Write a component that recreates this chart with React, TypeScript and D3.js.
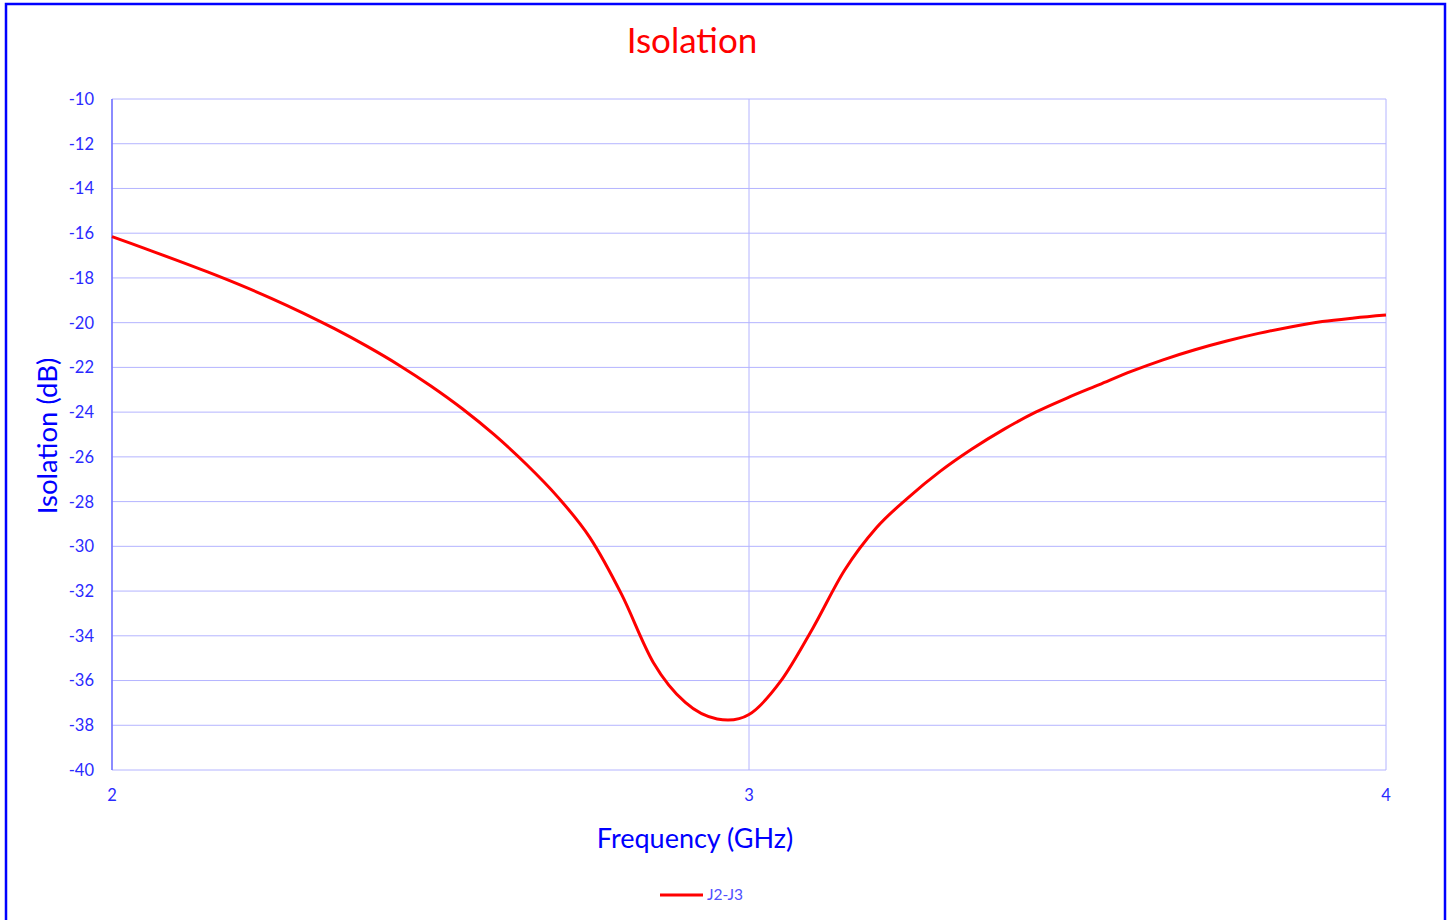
import React from "react";
import * as d3 from "d3";

// Frequency (GHz)
const freqs: number[] = [
  2.0, 2.05, 2.1, 2.15, 2.2, 2.25, 2.3, 2.35, 2.4, 2.45,
  2.5, 2.55, 2.6, 2.65, 2.7, 2.75, 2.8, 2.85, 2.9, 2.95,
  3.0, 3.05, 3.1, 3.15, 3.2, 3.25, 3.3, 3.35, 3.4, 3.45,
  3.5, 3.55, 3.6, 3.65, 3.7, 3.75, 3.8, 3.85, 3.9, 3.95, 4.0,
];
// J2-J3 isolation (dB)
const isolation: number[] = [
  -16.15, -16.67, -17.19, -17.73, -18.3, -18.91, -19.57, -20.28, -21.05, -21.89,
  -22.82, -23.85, -25.01, -26.32, -27.8, -29.6, -32.15, -35.2, -36.98, -37.72,
  -37.52, -36.02, -33.67, -31.07, -29.17, -27.82, -26.65, -25.65, -24.77, -24.0,
  -23.36, -22.77, -22.18, -21.66, -21.21, -20.82, -20.48, -20.19, -19.95, -19.79, -19.66,
];
const xTicks: number[] = [2, 3, 4];
const yTicks: number[] = [-40, -38, -36, -34, -32, -30, -28, -26, -24, -22, -20, -18, -16, -14, -12, -10];
const seriesName = "J2-J3";
const chartTitle = "Isolation";
const xTitle = "Frequency (GHz)";
const yTitle = "Isolation (dB)";

const W = 1452;
const H = 920;
const FONT = "Lato, 'Open Sans', sans-serif";

export default function App() {
  const x = d3.scaleLinear().domain([2, 4]).range([112, 1386]);
  const y = d3.scaleLinear().domain([-40, -10]).range([770, 99]);
  const data = freqs.map((f, i) => ({ f, v: isolation[i] }));
  const line = d3
    .line<{ f: number; v: number }>()
    .x((d) => x(d.f))
    .y((d) => y(d.v))
    .curve(d3.curveCardinal.tension(0));

  return (
    <svg
      width={W}
      height={H}
      style={{ position: "absolute", left: 0, top: 0, background: "#fff" }}
      fontFamily={FONT}
    >
      <rect x={0} y={0} width={W} height={H} fill="#fff" />
      <rect x={6} y={4} width={1439} height={930} fill="none" stroke="#0000ff" strokeWidth={2.5} />

      {/* horizontal grid */}
      {yTicks.map((t) => (
        <line key={"gy" + t} x1={112} x2={1386} y1={y(t)} y2={y(t)} stroke="#b4b4ff" strokeWidth={1} />
      ))}
      {/* vertical grid */}
      {xTicks.map((t) => (
        <line key={"gx" + t} x1={x(t)} x2={x(t)} y1={99} y2={770} stroke="#b4b4ff" strokeWidth={1} />
      ))}
      {/* y axis line */}
      <line x1={112} x2={112} y1={99} y2={770} stroke="#7070ff" strokeWidth={1.5} />

      {/* y tick labels */}
      {yTicks.map((t) => (
        <text key={"ty" + t} x={94} y={y(t)} dy="0.36em" textAnchor="end" fontSize={16.5} fill="#2a2aff">
          {t}
        </text>
      ))}
      {/* x tick labels */}
      {xTicks.map((t) => (
        <text key={"tx" + t} x={x(t)} y={801} textAnchor="middle" fontSize={16.5} fill="#2a2aff">
          {t}
        </text>
      ))}

      {/* series */}
      <path d={line(data) || ""} fill="none" stroke="#ff0000" strokeWidth={3} strokeLinejoin="round" />

      {/* titles */}
      <text x={692} y={53} textAnchor="middle" fontSize={35} fill="#ff0000">
        {chartTitle}
      </text>
      <text x={695} y={848} textAnchor="middle" fontSize={27} fill="#0000ff">
        {xTitle}
      </text>
      <text
        transform={`translate(57,436) rotate(-90)`}
        textAnchor="middle"
        fontSize={27.5}
        fill="#0000ff"
      >
        {yTitle}
      </text>

      {/* legend */}
      <line x1={660} x2={703} y1={895} y2={895} stroke="#ff0000" strokeWidth={3} />
      <text x={707} y={900} fontSize={15.5} fill="#5050ff">
        {seriesName}
      </text>
    </svg>
  );
}
